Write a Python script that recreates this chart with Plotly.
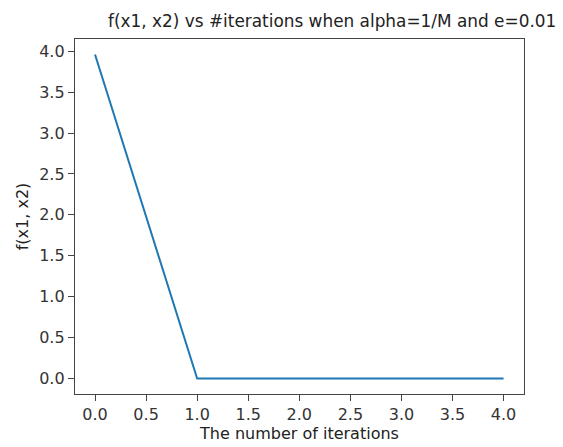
import plotly.graph_objects as go

iterations = [0, 1, 2, 3, 4]
f_values = [3.96, 0.0, 0.0, 0.0, 0.0]
x_ticks = [0.0, 0.5, 1.0, 1.5, 2.0, 2.5, 3.0, 3.5, 4.0]
y_ticks = [0.0, 0.5, 1.0, 1.5, 2.0, 2.5, 3.0, 3.5, 4.0]

fig = go.Figure()
fig.add_trace(go.Scatter(x=iterations, y=f_values, mode="lines",
                         line=dict(color="#1f77b4", width=2)))

axis_common = dict(showgrid=False, zeroline=False, showline=True, linecolor="#444",
                   linewidth=1.3, mirror=True, ticks="outside", ticklen=6, tickcolor="#444",
                   tickfont=dict(size=16, color="#333"), automargin=False)

fig.update_layout(
    width=563, height=447,
    margin=dict(l=75, r=39, t=39, b=53),
    paper_bgcolor="white", plot_bgcolor="white",
    font=dict(family="DejaVu Sans", color="#222"),
    showlegend=False,
    title=dict(text="f(x1, x2) vs #iterations when alpha=1/M and e=0.01",
               x=0.59, xanchor="center", y=0.953, yanchor="middle",
               font=dict(size=16.9, color="#222")),
    xaxis=dict(range=[-0.196, 4.2], tickvals=x_ticks,
               ticktext=[f"{v:.1f}" for v in x_ticks],
               title=dict(text="The number of iterations", font=dict(size=16), standoff=4),
               **axis_common),
    yaxis=dict(range=[-0.19, 4.15], tickvals=y_ticks,
               ticktext=[f"{v:.1f}" for v in y_ticks],
               title=dict(text="f(x1, x2)", font=dict(size=16), standoff=6),
               **axis_common),
)

fig.write_html("out.html")
